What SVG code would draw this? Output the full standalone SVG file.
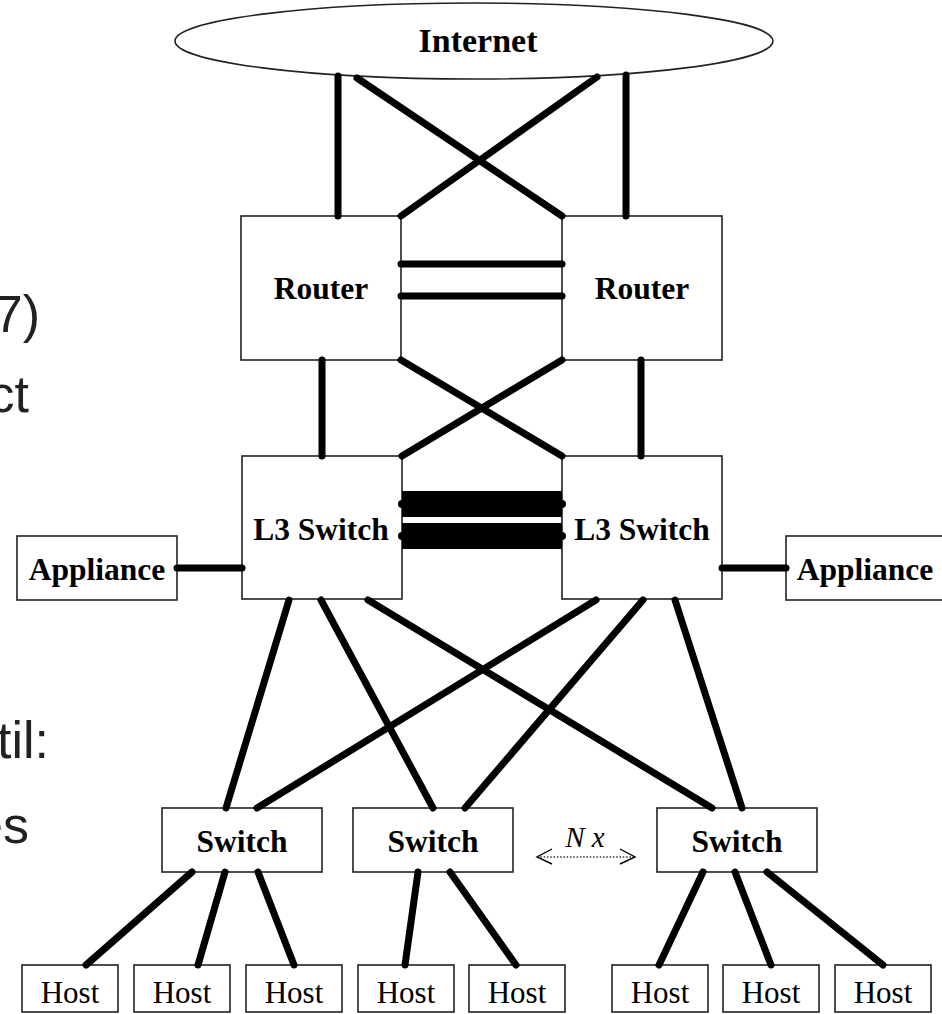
<svg xmlns="http://www.w3.org/2000/svg" width="942" height="1014" viewBox="0 0 942 1014">
<style>
.box{fill:#fff;stroke:#222;stroke-width:1.6}
.lbl{font-family:"Liberation Serif","Times New Roman",serif;font-weight:bold;font-size:31.5px;text-anchor:middle;fill:#000}
.host{font-family:"Liberation Serif","Times New Roman",serif;font-size:31px;text-anchor:middle;fill:#000}
.side{font-family:"Liberation Sans",Arial,sans-serif;font-size:52px;text-anchor:end;fill:#222}
.link{stroke:#000;stroke-width:7;stroke-linecap:round;fill:none}
.bar{fill:#000}
.dot{fill:#000}
</style>
<rect width="942" height="1014" fill="#fff"/>
<g id="sidetext">
<text class="side" x="40" y="332">7)</text>
<text class="side" x="29" y="412">ct</text>
<text class="side" x="49" y="758">til:</text>
<text class="side" x="29" y="843">es</text>
</g>
<g id="internet"><ellipse class="box" cx="474" cy="41" rx="299" ry="38"/><text class="lbl" x="478" y="52" style="font-size:34px">Internet</text></g>
<g id="router1"><rect class="box" x="241" y="216" width="160" height="144"/><text class="lbl" x="321" y="299">Router</text></g>
<g id="router2"><rect class="box" x="562" y="216" width="160" height="144"/><text class="lbl" x="642" y="299">Router</text></g>
<g id="l3switch1"><rect class="box" x="242" y="456" width="160" height="143"/><text class="lbl" x="321" y="540">L3 Switch</text></g>
<g id="l3switch2"><rect class="box" x="562" y="456" width="160" height="143"/><text class="lbl" x="642" y="540">L3 Switch</text></g>
<g id="appliance1"><rect class="box" x="17" y="536" width="160" height="64"/><text class="lbl" x="97" y="580">Appliance</text></g>
<g id="appliance2"><rect class="box" x="786" y="536" width="160" height="64"/><text class="lbl" x="865" y="580">Appliance</text></g>
<g id="switch1"><rect class="box" x="162" y="808" width="160" height="64"/><text class="lbl" x="242" y="852">Switch</text></g>
<g id="switch2"><rect class="box" x="353" y="808" width="160" height="64"/><text class="lbl" x="433" y="852">Switch</text></g>
<g id="switch3"><rect class="box" x="657" y="808" width="160" height="64"/><text class="lbl" x="737" y="852">Switch</text></g>
<g id="host1"><rect class="box" x="22" y="965" width="96" height="47"/><text class="host" x="70" y="1003">Host</text></g>
<g id="host2"><rect class="box" x="134" y="965" width="96" height="47"/><text class="host" x="182" y="1003">Host</text></g>
<g id="host3"><rect class="box" x="246" y="965" width="96" height="47"/><text class="host" x="294" y="1003">Host</text></g>
<g id="host4"><rect class="box" x="358" y="965" width="96" height="47"/><text class="host" x="406" y="1003">Host</text></g>
<g id="host5"><rect class="box" x="469" y="965" width="96" height="47"/><text class="host" x="517" y="1003">Host</text></g>
<g id="host6"><rect class="box" x="612" y="965" width="96" height="47"/><text class="host" x="660" y="1003">Host</text></g>
<g id="host7"><rect class="box" x="723" y="965" width="96" height="47"/><text class="host" x="771" y="1003">Host</text></g>
<g id="host8"><rect class="box" x="835" y="965" width="96" height="47"/><text class="host" x="883" y="1003">Host</text></g>
<g id="connectors">
<line class="link" x1="338" y1="76" x2="338" y2="216"/>
<line class="link" x1="626" y1="75" x2="626" y2="216"/>
<line class="link" x1="357" y1="78" x2="562" y2="216"/>
<line class="link" x1="597" y1="77" x2="401" y2="216"/>
<line class="link" x1="401" y1="264" x2="562" y2="264"/>
<line class="link" x1="401" y1="296" x2="562" y2="296"/>
<line class="link" x1="322" y1="360" x2="322" y2="456"/>
<line class="link" x1="641" y1="360" x2="641" y2="456"/>
<line class="link" x1="401" y1="360" x2="562" y2="456"/>
<line class="link" x1="562" y1="360" x2="402" y2="456"/>
<rect class="bar" x="402" y="491" width="160" height="26"/>
<rect class="bar" x="402" y="523" width="160" height="26"/>
<circle class="dot" cx="402" cy="504" r="4"/><circle class="dot" cx="562" cy="504" r="4"/>
<circle class="dot" cx="402" cy="536" r="4"/><circle class="dot" cx="562" cy="536" r="4"/>
<line class="link" x1="177" y1="568" x2="242" y2="568"/>
<line class="link" x1="722" y1="568" x2="786" y2="568"/>
<line class="link" x1="289" y1="600" x2="226" y2="808"/>
<line class="link" x1="321" y1="600" x2="433" y2="808"/>
<line class="link" x1="368" y1="600" x2="712" y2="808"/>
<line class="link" x1="596" y1="600" x2="257" y2="808"/>
<line class="link" x1="643" y1="600" x2="465" y2="808"/>
<line class="link" x1="675" y1="600" x2="742" y2="808"/>
<line class="link" x1="192" y1="872" x2="86" y2="965"/>
<line class="link" x1="225" y1="872" x2="198" y2="965"/>
<line class="link" x1="258" y1="872" x2="294" y2="965"/>
<line class="link" x1="418" y1="872" x2="405" y2="965"/>
<line class="link" x1="450" y1="872" x2="516" y2="965"/>
<line class="link" x1="703" y1="872" x2="659" y2="965"/>
<line class="link" x1="735" y1="872" x2="771" y2="965"/>
<line class="link" x1="767" y1="872" x2="883" y2="965"/>
</g>
<g id="nx">
<line x1="537" y1="857" x2="635" y2="857" stroke="#333" stroke-width="1.4" stroke-dasharray="1.5 1.8"/>
<polyline points="552,849 537,857 552,864" fill="none" stroke="#000" stroke-width="1.4"/>
<polyline points="620,849 635,857 620,864" fill="none" stroke="#000" stroke-width="1.4"/>
<text x="585" y="847" font-family="Liberation Serif, 'Times New Roman', serif" font-style="italic" font-size="29" text-anchor="middle">N x</text>
</g>
</svg>
